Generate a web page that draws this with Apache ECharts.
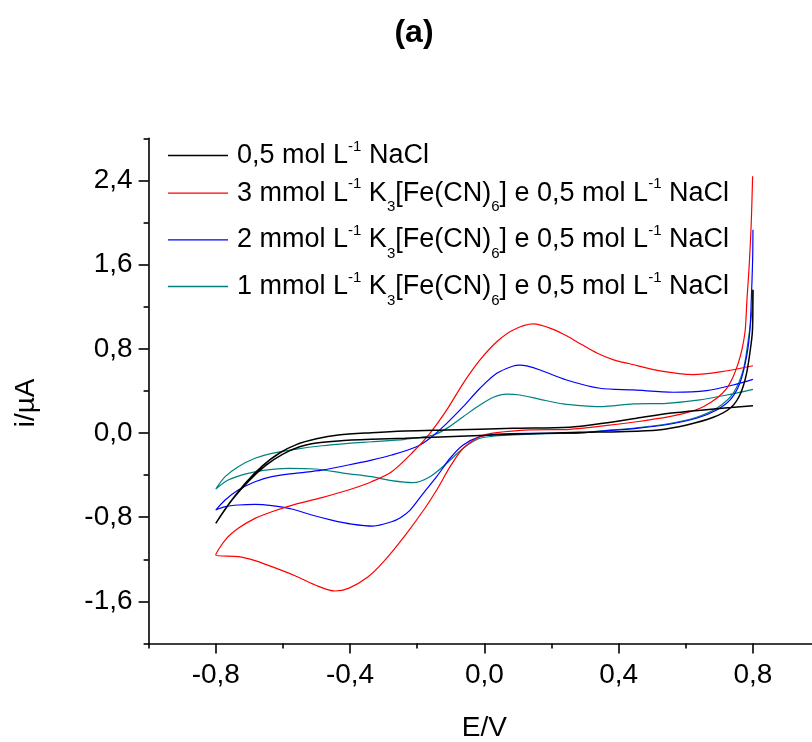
<!DOCTYPE html>
<html><head><meta charset="utf-8">
<script src="https://cdn.jsdelivr.net/npm/echarts@6/dist/echarts.min.js"></script>
<style>html,body{margin:0;padding:0;background:#fff}#c{width:812px;height:742px}</style>
</head><body><div id="c"></div>
<script>
// ---------- data ----------
const seriesNames = [
  '0,5 mol L-1 NaCl',
  '3 mmol L-1 K3[Fe(CN)6] e 0,5 mol L-1 NaCl',
  '2 mmol L-1 K3[Fe(CN)6] e 0,5 mol L-1 NaCl',
  '1 mmol L-1 K3[Fe(CN)6] e 0,5 mol L-1 NaCl'
];
const legendRich = [
  '0,5 mol L{sup|-1} NaCl',
  '3 mmol L{sup|-1} K{sub|3}[Fe(CN){sub|6}] e 0,5 mol L{sup|-1} NaCl',
  '2 mmol L{sup|-1} K{sub|3}[Fe(CN){sub|6}] e 0,5 mol L{sup|-1} NaCl',
  '1 mmol L{sup|-1} K{sub|3}[Fe(CN){sub|6}] e 0,5 mol L{sup|-1} NaCl'
];
const xTicks = [-0.8, -0.4, 0, 0.4, 0.8];
const xMinorTicks = [-1.0, -0.6, -0.2, 0.2, 0.6, 1.0];
const yTicks = [-1.6, -0.8, 0, 0.8, 1.6, 2.4];
const yMinorTicks = [-2.0, -1.2, -0.4, 0.4, 1.2, 2.0, 2.8];

// E/V, i/uA  (path: top of anodic spike -> lower branch -> -0.8 V -> upper branch -> 0.8 V)
const cvNaCl = [
  [0.800,1.36],[0.799,1.01],[0.796,0.884],[0.781,0.567],[0.761,0.361],[0.732,0.235],[0.682,0.149],
  [0.603,0.076],[0.518,0.029],[0.404,0.013],[0.285,0.007],[0.086,-0.013],[-0.112,-0.035],[-0.236,-0.050],
  [-0.336,-0.060],[-0.435,-0.075],[-0.500,-0.095],[-0.550,-0.130],[-0.600,-0.200],[-0.650,-0.305],
  [-0.700,-0.450],[-0.750,-0.630],[-0.800,-0.858],
  [-0.760,-0.670],[-0.710,-0.470],[-0.660,-0.310],[-0.610,-0.190],[-0.560,-0.110],[-0.500,-0.055],
  [-0.435,-0.019],[-0.336,0.003],[-0.236,0.019],[-0.112,0.029],[0.086,0.044],[0.255,0.055],
  [0.354,0.092],[0.454,0.140],[0.551,0.187],[0.652,0.219],[0.800,0.260]
];
const cv3mM = [
  [0.799,2.44],[0.795,2.00],[0.789,1.60],[0.782,1.26],[0.777,0.979],[0.767,0.789],[0.756,0.662],
  [0.741,0.535],[0.722,0.425],[0.692,0.330],[0.652,0.250],[0.603,0.193],[0.551,0.155],[0.454,0.107],
  [0.354,0.067],[0.255,0.035],[0.136,0.029],[0.037,0.003],[-0.013,-0.035],[-0.063,-0.145],
  [-0.102,-0.320],[-0.142,-0.542],[-0.177,-0.715],[-0.233,-0.960],[-0.296,-1.207],[-0.346,-1.365],
  [-0.405,-1.476],[-0.445,-1.501],[-0.504,-1.444],[-0.564,-1.356],[-0.633,-1.270],[-0.683,-1.213],
  [-0.733,-1.175],[-0.800,-1.159],
  [-0.772,-1.017],[-0.733,-0.906],[-0.683,-0.811],[-0.633,-0.748],[-0.564,-0.678],[-0.484,-0.614],
  [-0.405,-0.542],[-0.336,-0.463],[-0.276,-0.368],[-0.212,-0.178],[-0.162,-0.003],[-0.112,0.219],
  [-0.063,0.472],[-0.013,0.694],[0.037,0.867],[0.086,0.979],[0.146,1.036],[0.205,0.985],
  [0.250,0.915],[0.290,0.840],[0.335,0.760],[0.385,0.695],[0.430,0.660],[0.523,0.590],
  [0.622,0.555],[0.702,0.580],[0.800,0.639]
];
const cv2mM = [
  [0.800,1.93],[0.799,1.64],[0.795,1.26],[0.791,0.979],[0.781,0.725],[0.761,0.472],[0.732,0.314],
  [0.692,0.219],[0.632,0.140],[0.551,0.083],[0.454,0.044],[0.354,0.019],[0.255,-0.003],[0.136,-0.003],
  [0.037,-0.010],[-0.013,-0.035],[-0.063,-0.114],[-0.102,-0.240],[-0.142,-0.415],[-0.182,-0.573],
  [-0.221,-0.732],[-0.250,-0.805],[-0.276,-0.843],[-0.331,-0.884],[-0.395,-0.865],[-0.455,-0.827],
  [-0.514,-0.779],[-0.574,-0.722],[-0.633,-0.690],[-0.683,-0.678],[-0.733,-0.684],[-0.772,-0.700],
  [-0.800,-0.732],
  [-0.772,-0.637],[-0.733,-0.542],[-0.683,-0.463],[-0.633,-0.415],[-0.564,-0.383],[-0.484,-0.352],
  [-0.405,-0.304],[-0.336,-0.257],[-0.276,-0.209],[-0.202,-0.130],[-0.162,-0.050],[-0.112,0.092],
  [-0.063,0.250],[-0.013,0.425],[0.037,0.567],[0.086,0.637],[0.106,0.645],[0.126,0.637],
  [0.166,0.599],[0.245,0.504],[0.344,0.425],[0.444,0.409],[0.563,0.387],[0.662,0.402],
  [0.741,0.456],[0.800,0.510]
];
const cv1mM = [
  [0.800,1.36],[0.797,1.17],[0.786,0.884],[0.771,0.599],[0.741,0.377],[0.692,0.235],[0.632,0.150],
  [0.551,0.090],[0.454,0.050],[0.354,0.022],[0.285,0.003],[0.086,-0.019],[-0.013,-0.050],
  [-0.063,-0.145],[-0.112,-0.288],[-0.162,-0.415],[-0.212,-0.472],[-0.276,-0.453],[-0.336,-0.415],
  [-0.415,-0.383],[-0.504,-0.342],[-0.584,-0.336],[-0.653,-0.352],[-0.713,-0.390],[-0.763,-0.447],
  [-0.800,-0.532],
  [-0.772,-0.415],[-0.733,-0.320],[-0.683,-0.240],[-0.633,-0.193],[-0.564,-0.155],[-0.484,-0.121],
  [-0.405,-0.098],[-0.336,-0.083],[-0.236,-0.060],[-0.152,-0.019],[-0.112,0.044],[-0.063,0.155],
  [-0.013,0.266],[0.027,0.339],[0.066,0.370],[0.106,0.361],[0.166,0.320],[0.235,0.276],
  [0.285,0.260],[0.344,0.250],[0.444,0.276],[0.543,0.282],[0.642,0.314],[0.722,0.361],[0.800,0.415]
];
const seriesData = [cvNaCl, cv3mM, cv2mM, cv1mM];
const seriesColors = ['#000000', '#ff0000', '#0000ff', '#008080'];

// ---------- chart ----------
const FONT = 'Liberation Sans, Arial, sans-serif';
const fmt = v => v.toFixed(1).replace('.', ',');
const chart = echarts.init(document.getElementById('c'), null, {renderer: 'canvas'});
const gridBox = {left: 148.6, top: 138.3, width: 671.5, height: 505.2, outerBoundsMode: 'none', containLabel: false};
const legendTops = [139, 176.7, 223.3, 270];

const option = {
  backgroundColor: '#ffffff',
  animation: false,
  title: {
    text: '(a)', left: 409, top: 12, textAlign: 'center',
    textStyle: {fontFamily: 'Liberation Sans Narrow, Arial Narrow, sans-serif', fontWeight: 'bold', fontSize: 32, color: '#000'}
  },
  grid: gridBox,
  legend: seriesNames.map((n, i) => ({
    data: [n], left: 168, top: legendTops[i], padding: 0, selectedMode: false,
    icon: 'rect', itemWidth: 60, itemHeight: 1.3,
    formatter: () => legendRich[i],
    textStyle: {
      fontFamily: FONT, fontSize: 27, color: '#000', padding: [0, 0, 0, 4],
      rich: {
        sup: {fontFamily: FONT, fontSize: 15, color: '#000', padding: [0, 0, 18, 0]},
        sub: {fontFamily: FONT, fontSize: 15, color: '#000', padding: [28, 0, 0, 0]}
      }
    }
  })),
  xAxis: [
    {
      type: 'value', min: -1.0, max: 1.0, position: 'bottom',
      name: 'E/V', nameLocation: 'middle', nameGap: 71,
      nameTextStyle: {fontFamily: FONT, fontSize: 28, color: '#000'},
      axisLine: {show: true, onZero: false, lineStyle: {color: '#000', width: 1.6}},
      axisTick: {show: true, inside: false, length: 10, customValues: xTicks, lineStyle: {color: '#000', width: 1.6}},
      axisLabel: {show: true, customValues: xTicks, margin: 18, formatter: fmt, fontFamily: FONT, fontSize: 28, color: '#000'},
      splitLine: {show: false}
    },
    {
      type: 'value', min: -1.0, max: 1.0, position: 'bottom', offset: 0,
      axisLine: {show: false, onZero: false},
      axisTick: {show: true, inside: false, length: 5, customValues: xMinorTicks, lineStyle: {color: '#000', width: 1.6}},
      axisLabel: {show: false},
      splitLine: {show: false}
    }
  ],
  yAxis: [
    {
      type: 'value', min: -2.0, max: 2.8, position: 'left',
      name: 'i/µA', nameLocation: 'middle', nameGap: 108, nameRotate: 90,
      nameTextStyle: {fontFamily: FONT, fontSize: 28, color: '#000', padding: [0, 24, 0, 0]},
      axisLine: {show: true, onZero: false, lineStyle: {color: '#000', width: 1.6}},
      axisTick: {show: true, inside: false, length: 10, customValues: yTicks, lineStyle: {color: '#000', width: 1.6}},
      axisLabel: {show: true, customValues: yTicks, margin: 16, formatter: fmt, fontFamily: FONT, fontSize: 28, color: '#000'},
      splitLine: {show: false}
    },
    {
      type: 'value', min: -2.0, max: 2.8, position: 'left', offset: 0,
      axisLine: {show: false, onZero: false},
      axisTick: {show: true, inside: false, length: 5, customValues: yMinorTicks, lineStyle: {color: '#000', width: 1.6}},
      axisLabel: {show: false},
      splitLine: {show: false}
    }
  ],
  series: seriesNames.map((n, i) => ({
    name: n, type: 'line', xAxisIndex: 0, yAxisIndex: 0,
    data: seriesData[i], symbol: 'none', smooth: 0.3,
    lineStyle: {color: seriesColors[i], width: i === 0 ? 1.5 : 1.2},
    itemStyle: {color: seriesColors[i]},
    z: 4 - i
  }))
};
chart.setOption(option);
</script>
</body></html>
